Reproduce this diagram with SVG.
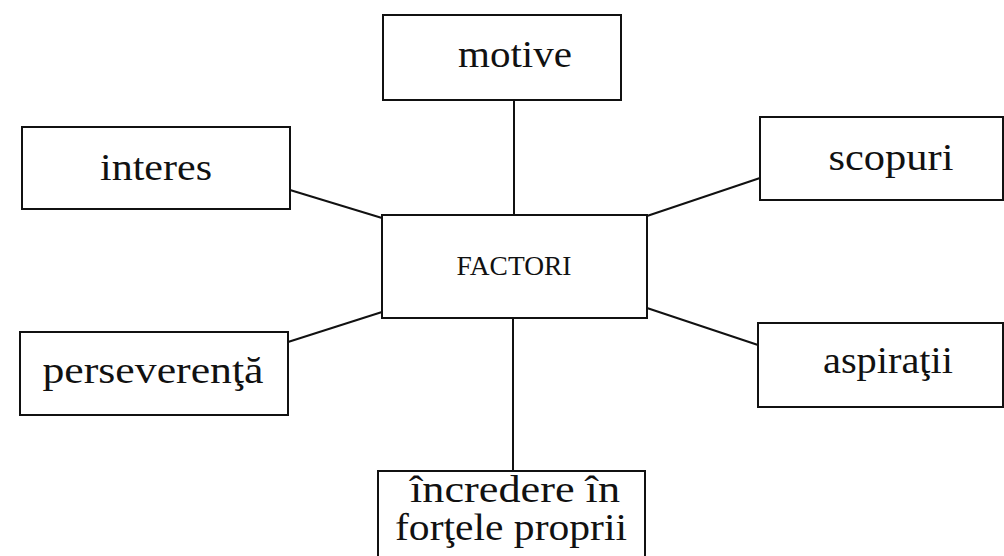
<svg xmlns="http://www.w3.org/2000/svg" width="1004" height="556" viewBox="0 0 1004 556">
<style>
.box{fill:#fff;stroke:#111;stroke-width:2}
.lbl{font-family:"Liberation Serif","Times New Roman",serif;font-size:38px;fill:#111;text-anchor:middle}
.con{stroke:#111;stroke-width:2;fill:none}
</style>
<rect width="1004" height="556" fill="#fff"/>
<g id="connectors">
<line class="con" x1="514" y1="100" x2="514" y2="215"/>
<line class="con" x1="290" y1="190" x2="382" y2="218"/>
<line class="con" x1="288" y1="342" x2="382" y2="312"/>
<line class="con" x1="647" y1="216" x2="760" y2="178"/>
<line class="con" x1="647" y1="308" x2="758" y2="345"/>
<line class="con" x1="513" y1="318" x2="513" y2="471"/>
</g>
<g id="motive">
<rect class="box" x="383" y="15" width="238" height="85"/>
<text class="lbl" x="515" y="67" textLength="114" lengthAdjust="spacingAndGlyphs">motive</text>
</g>
<g id="interes">
<rect class="box" x="22" y="127" width="268" height="82"/>
<text class="lbl" x="156" y="180" textLength="112" lengthAdjust="spacingAndGlyphs">interes</text>
</g>
<g id="factori">
<rect class="box" x="382" y="215" width="265" height="103"/>
<text class="lbl" x="514" y="275" style="font-size:27px" textLength="115" lengthAdjust="spacingAndGlyphs">FACTORI</text>
</g>
<g id="scopuri">
<rect class="box" x="760" y="117" width="243" height="83"/>
<text class="lbl" x="891" y="170" textLength="125" lengthAdjust="spacingAndGlyphs">scopuri</text>
</g>
<g id="aspiratii">
<rect class="box" x="758" y="323" width="245" height="84"/>
<text class="lbl" x="888" y="373" textLength="130" lengthAdjust="spacingAndGlyphs">aspiraţii</text>
</g>
<g id="perseverenta">
<rect class="box" x="20" y="332" width="268" height="83"/>
<text class="lbl" x="153" y="383" textLength="221" lengthAdjust="spacingAndGlyphs">perseverenţă</text>
</g>
<g id="incredere">
<rect class="box" x="378" y="471" width="267" height="90"/>
<text class="lbl" x="515" y="502" textLength="210" lengthAdjust="spacingAndGlyphs">încredere în</text>
<text class="lbl" x="511" y="540" textLength="232" lengthAdjust="spacingAndGlyphs">forţele proprii</text>
</g>
</svg>
